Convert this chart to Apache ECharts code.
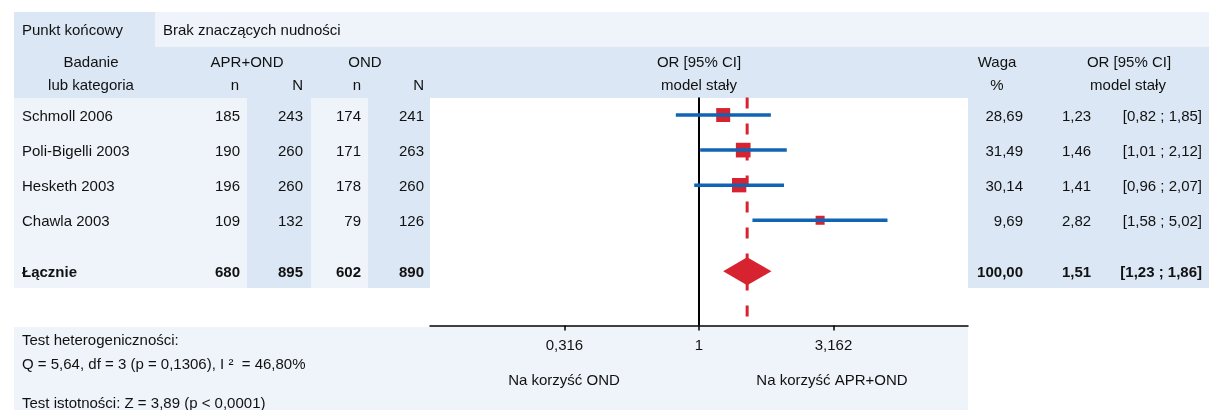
<!DOCTYPE html>
<html>
<head>
<meta charset="utf-8">
<script src="https://cdn.jsdelivr.net/npm/echarts@6/dist/echarts.min.js"></script>
<style>
html, body { margin: 0; padding: 0; background: #fff; }
#forest { width: 1209px; height: 410px; }
</style>
</head>
<body>
<div id="forest"></div>
<script>
// dane badań
var studies = ['Schmoll 2006', 'Poli-Bigelli 2003', 'Hesketh 2003', 'Chawla 2003'];
var aprOndN = [185, 190, 196, 109];
var aprOndTotal = [243, 260, 260, 132];
var ondN = [174, 171, 178, 79];
var ondTotal = [241, 263, 260, 126];
var weights = [28.69, 31.49, 30.14, 9.69];
var orValues = [1.23, 1.46, 1.41, 2.82];
var ciLow = [0.82, 1.01, 0.96, 1.58];
var ciHigh = [1.85, 2.12, 2.07, 5.02];

// wiersz "Łącznie"
var totalLabel = 'Łącznie';
var totalCounts = [680, 895, 602, 890];
var totalWeight = 100.00;
var pooledOR = 1.51;
var pooledLow = 1.23;
var pooledHigh = 1.86;

var xTicks = [0.316, 1, 3.162];

var FONT = '15px "Liberation Sans", Arial, sans-serif';
var FONT_B = 'bold 15px "Liberation Sans", Arial, sans-serif';
var TXT = '#111';
var DARK = '#dbe7f4';
var LIGHT = '#eef4fa';
var RED = '#d7232f';
var BLUE = '#1064b3';

function pl(v, d) {
  return v.toFixed(d).replace('.', ',');
}

var totalRow = studies.length + 0.45;

var studyData = studies.map(function (s, i) {
  return [ciLow[i], orValues[i], ciHigh[i], i, weights[i]];
});
var tableData = studies.map(function (s, i) { return [i]; });
tableData.push([totalRow]);

function txt(x, y, text, align, bold) {
  return {
    type: 'text',
    style: {
      x: x, y: y, text: text,
      align: align || 'left', verticalAlign: 'middle',
      font: bold ? FONT_B : FONT, fill: TXT
    }
  };
}

function rect(x, y, w, h, fill) {
  return { type: 'rect', shape: { x: x, y: y, width: w, height: h }, style: { fill: fill }, z: -10, silent: true };
}

var chart = echarts.init(document.getElementById('forest'));

chart.setOption({
  animation: false,
  grid: { left: 430, right: 241, top: 97.5, bottom: 84.5 },
  xAxis: {
    type: 'log',
    logBase: 10,
    min: 0.1,
    max: 10,
    position: 'bottom',
    splitLine: { show: false },
    axisLine: { onZero: false, lineStyle: { color: '#000', width: 1.5 } },
    axisTick: { customValues: xTicks, length: 5, lineStyle: { color: '#000', width: 1.5 } },
    axisLabel: {
      customValues: xTicks,
      margin: 13,
      color: TXT,
      fontSize: 15,
      fontFamily: '"Liberation Sans", Arial, sans-serif',
      formatter: function (v) { return String(v).replace('.', ','); }
    }
  },
  yAxis: { type: 'value', min: -0.5, max: 6, inverse: true, show: false },
  graphic: [
    rect(14, 12, 141, 35, DARK),
    rect(155, 12, 1054, 35, LIGHT),
    rect(14, 47, 1195, 51, DARK),
    rect(14, 98, 416, 190, LIGHT),
    rect(247, 98, 64, 190, DARK),
    rect(368, 98, 62, 190, DARK),
    rect(968, 98, 241, 190, DARK),
    rect(14, 327, 954, 83, LIGHT),
    txt(22, 31, 'Punkt końcowy'),
    txt(163, 31, 'Brak znaczących nudności'),
    txt(91, 63, 'Badanie', 'center'),
    txt(91, 86, 'lub kategoria', 'center'),
    txt(247, 63, 'APR+OND', 'center'),
    txt(365, 63, 'OND', 'center'),
    txt(239, 86, 'n', 'right'),
    txt(303, 86, 'N', 'right'),
    txt(361, 86, 'n', 'right'),
    txt(424, 86, 'N', 'right'),
    txt(699, 63, 'OR [95% CI]', 'center'),
    txt(699, 86, 'model stały', 'center'),
    txt(997, 63, 'Waga', 'center'),
    txt(997, 86, '%', 'center'),
    txt(1129, 63, 'OR [95% CI]', 'center'),
    txt(1128, 86, 'model stały', 'center'),
    txt(22, 341, 'Test heterogeniczności:'),
    txt(22, 365, 'Q = 5,64, df = 3 (p = 0,1306), I ²  = 46,80%'),
    txt(22, 404, 'Test istotności: Z = 3,89 (p < 0,0001)'),
    txt(564, 381, 'Na korzyść OND', 'center'),
    txt(832, 381, 'Na korzyść APR+OND', 'center')
  ],
  series: [
    {
      // linie odniesienia: OR = 1 i wynik łączny
      type: 'custom',
      data: [[1, 0], [pooledOR, 1]],
      renderItem: function (params, api) {
        var top = api.coord([api.value(0), -0.5]);
        var bot = api.coord([api.value(0), 6]);
        var dashed = api.value(1) === 1;
        return {
          type: 'line',
          shape: { x1: top[0], y1: top[1], x2: bot[0], y2: bot[1] },
          style: dashed
            ? { stroke: RED, lineWidth: 3, lineDash: [11, 15] }
            : { stroke: '#000', lineWidth: 2 }
        };
      }
    },
    {
      // badania: kwadrat + przedział ufności
      type: 'custom',
      data: studyData,
      renderItem: function (params, api) {
        var y = api.value(3);
        var lo = api.coord([api.value(0), y]);
        var mid = api.coord([api.value(1), y]);
        var hi = api.coord([api.value(2), y]);
        var s = 6.5 + 0.26 * api.value(4);
        return {
          type: 'group',
          children: [
            {
              type: 'rect',
              shape: { x: mid[0] - s / 2, y: mid[1] - s / 2, width: s, height: s },
              style: { fill: RED }
            },
            {
              type: 'line',
              shape: { x1: lo[0], y1: lo[1], x2: hi[0], y2: hi[1] },
              style: { stroke: BLUE, lineWidth: 3.5 }
            }
          ]
        };
      }
    },
    {
      // romb dla wyniku łącznego
      type: 'custom',
      data: [[pooledLow, pooledOR, pooledHigh, totalRow]],
      renderItem: function (params, api) {
        var y = api.value(3);
        var lo = api.coord([api.value(0), y]);
        var mid = api.coord([api.value(1), y]);
        var hi = api.coord([api.value(2), y]);
        var h = 14;
        return {
          type: 'polygon',
          shape: { points: [[lo[0], lo[1]], [mid[0], mid[1] - h], [hi[0], hi[1]], [mid[0], mid[1] + h]] },
          style: { fill: RED }
        };
      }
    },
    {
      // tabela po lewej i prawej stronie
      type: 'custom',
      data: tableData,
      renderItem: function (params, api) {
        var i = params.dataIndex;
        var y = api.coord([1, api.value(0)])[1] + 2;
        var isTotal = i === studies.length;
        var cells;
        if (isTotal) {
          cells = [totalLabel, totalCounts[0], totalCounts[1], totalCounts[2], totalCounts[3],
            pl(totalWeight, 2), pl(pooledOR, 2), '[' + pl(pooledLow, 2) + ' ; ' + pl(pooledHigh, 2) + ']'];
        } else {
          cells = [studies[i], aprOndN[i], aprOndTotal[i], ondN[i], ondTotal[i],
            pl(weights[i], 2), pl(orValues[i], 2), '[' + pl(ciLow[i], 2) + ' ; ' + pl(ciHigh[i], 2) + ']'];
        }
        var cols = [[22, 'left'], [240, 'right'], [303, 'right'], [361, 'right'], [424, 'right'],
          [1023, 'right'], [1062, 'left'], [1202, 'right']];
        return {
          type: 'group',
          children: cells.map(function (c, k) {
            return txt(cols[k][0], y, String(c), cols[k][1], isTotal);
          })
        };
      }
    }
  ]
});
</script>
</body>
</html>
